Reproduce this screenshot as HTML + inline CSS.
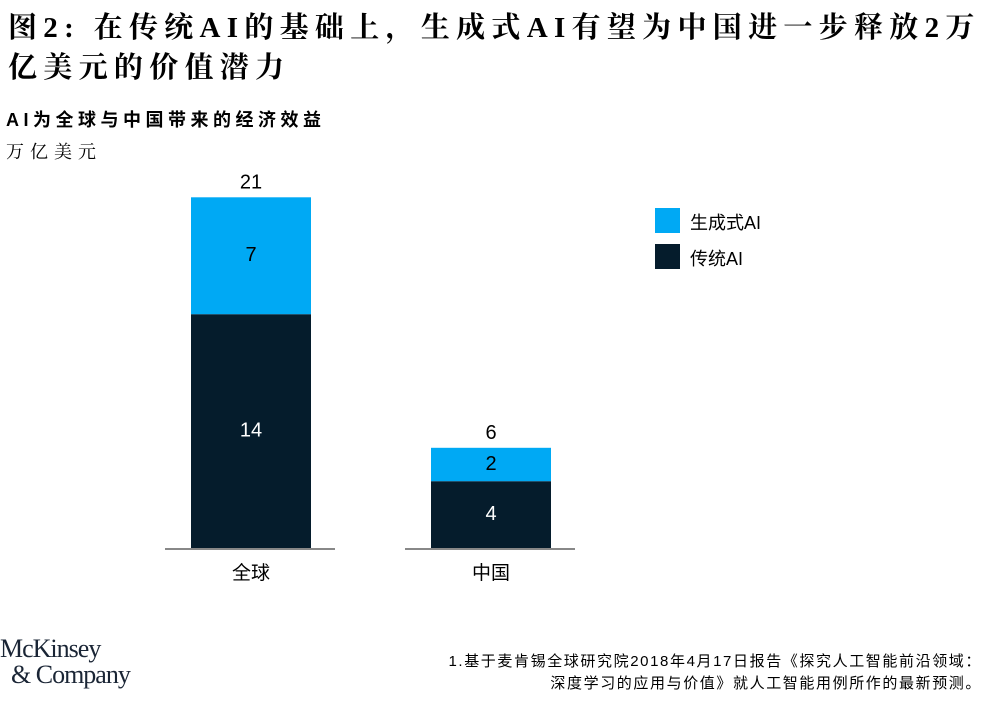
<!DOCTYPE html>
<html><head><meta charset="utf-8"><style>
body{margin:0;width:1006px;height:705px;background:#fff;position:relative;overflow:hidden;font-family:"Liberation Sans","Noto Sans CJK SC",sans-serif;color:#000}
.a{position:absolute;white-space:nowrap}
#title{left:8px;top:8px;font-family:"Liberation Serif","Noto Serif CJK SC",serif;font-weight:bold;font-size:29px;line-height:40px;letter-spacing:6.3px}
#sub{left:6px;top:106px;font-weight:bold;font-size:18px;letter-spacing:4.5px}
#unit{left:6px;top:138px;font-size:18px;letter-spacing:6px;font-family:"Liberation Serif","Noto Serif CJK SC",serif}
.foot{right:24px;font-size:15px;letter-spacing:1.6px}
#logo{left:0;top:636px;font-family:"Liberation Serif",serif;font-size:26px;line-height:26px;color:#1a2535;letter-spacing:-1px}
</style></head><body>
<div id="title" class="a">图2: 在传统AI的基础上，生成式AI有望为中国进一步释放2万<br>亿美元的价值潜力</div>
<div id="sub" class="a">AI为全球与中国带来的经济效益</div>
<div id="unit" class="a">万亿美元</div>
<svg id="chart" class="a" style="left:0;top:0" width="1006" height="705"></svg>
<div class="a" style="left:655px;top:208px;width:25px;height:25px;background:#00A9F4"></div>
<div class="a" style="left:690px;top:209px;font-size:18px">生成式AI</div>
<div class="a" style="left:655px;top:244px;width:25px;height:25px;background:#051C2C"></div>
<div class="a" style="left:690px;top:245px;font-size:18px">传统AI</div>
<div id="logo" class="a">McKinsey<br>&nbsp;&nbsp;&amp; Company</div>
<div class="a foot" style="top:650px">1.基于麦肯锡全球研究院2018年4月17日报告《探究人工智能前沿领域：</div>
<div class="a foot" style="top:672px">深度学习的应用与价值》就人工智能用例所作的最新预测。</div>
<script>
const categories=["全球","中国"];
const traditional=[14,4];
const generative=[7,2];
const totals=[21,6];
const svg=document.getElementById('chart');
const NS='http://www.w3.org/2000/svg';
const baseY=548, pxPerUnit=16.7;
const yScale=v=>baseY-v*pxPerUnit;
const xCenters=[251,491], barW=120;
function mk(tag,attrs){const e=document.createElementNS(NS,tag);for(const k in attrs)e.setAttribute(k,attrs[k]);svg.appendChild(e);return e;}
function txt(x,y,s,fill){const t=mk('text',{x:x,y:y,'text-anchor':'middle','font-size':'20','fill':fill,'font-family':'Liberation Sans, Noto Sans CJK SC, sans-serif','dominant-baseline':'middle'});t.textContent=s;return t;}
categories.forEach((c,i)=>{
  const cx=xCenters[i], x0=cx-barW/2;
  const yT=yScale(traditional[i]), yG=yScale(traditional[i]+generative[i]);
  const r1=mk('rect',{x:x0,y:yT,width:barW,height:baseY-yT,fill:'#051C2C'});
  
  
  const r2=mk('rect',{x:x0,y:yG,width:barW,height:yT-yG,fill:'#00A9F4'});
  
  
  const l=mk('line',{x1:cx-86,x2:cx+84,y1:baseY+1,y2:baseY+1,stroke:'#888','stroke-width':2});
  
  
  const t1=txt(cx,(yT+baseY)/2,String(traditional[i]),'#fff');
  
  
  const t2=txt(cx,(yG+yT)/2,String(generative[i]),'#000');
  
  
  const t3=txt(cx,yG-14,String(totals[i]),'#000');
  
  
  const t4=txt(cx,574,c,'#000');
  t4.setAttribute('font-size','19');
  
  
});
</script>
</body></html>
